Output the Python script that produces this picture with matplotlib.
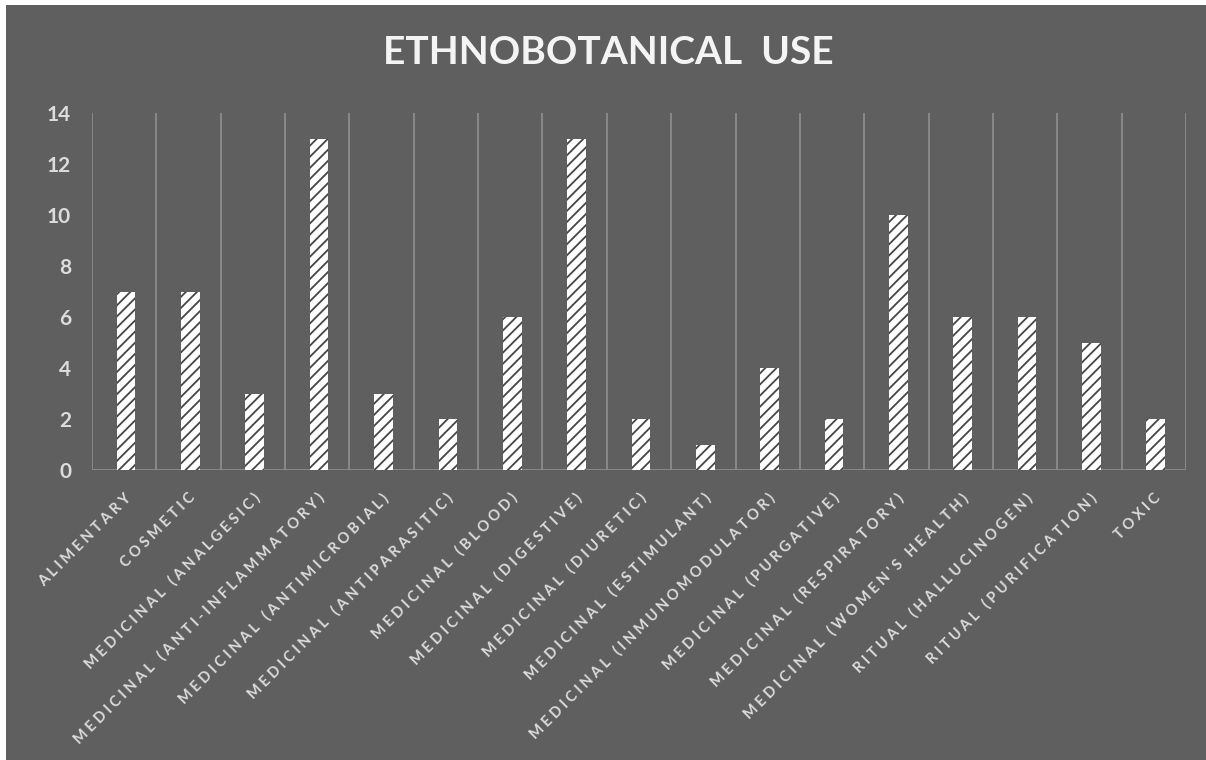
import matplotlib.pyplot as plt
from matplotlib.patches import Rectangle

plt.rcParams['font.family'] = ['Lato', 'DejaVu Sans']
plt.rcParams['hatch.linewidth'] = 1.3

categories = ['Alimentary', 'Cosmetic', 'Medicinal (analgesic)',
              'Medicinal (anti-inflammatory)', 'Medicinal (antimicrobial)',
              'Medicinal (antiparasitic)', 'Medicinal (blood)',
              'Medicinal (digestive)', 'Medicinal (diuretic)',
              'Medicinal (estimulant)', 'Medicinal (inmunomodulator)',
              'Medicinal (purgative)', 'Medicinal (respiratory)',
              "Medicinal (women's health)", 'Ritual (hallucinogen)',
              'Ritual (purification)', 'Toxic']
counts = [7, 7, 3, 13, 3, 2, 6, 13, 2, 1, 4, 2, 10, 6, 6, 5, 2]
yticks = [0, 2, 4, 6, 8, 10, 12, 14]

bg = '#5f5f5f'
grid_c = '#8c8c8c'
text_c = '#dcdcdc'


def spaced(s):
    # wide tracking for the category labels
    return '   '.join(' '.join(w) for w in s.upper().split(' '))


fig = plt.figure(figsize=(12.06, 7.6), dpi=100, facecolor='white')
fig.patches.append(Rectangle((6 / 1206, 0), 1, 755 / 760, transform=fig.transFigure,
                             facecolor=bg, edgecolor='none', zorder=-1))

ax = fig.add_axes([92 / 1206, 1 - 470 / 760, (1186 - 92) / 1206, (470 - 113) / 760])
ax.set_facecolor(bg)

x = [i + 0.03 for i in range(len(categories))]
ax.bar(x, counts, width=0.29, color='white', edgecolor='#454545', linewidth=0,
       hatch='///', zorder=3)

ax.set_xlim(-0.5, len(categories) - 0.5)
ax.set_ylim(0, 14)

# vertical gridlines between categories
for b in range(len(categories) + 1):
    ax.axvline(b - 0.5, color=grid_c, lw=1.3, zorder=1)
ax.axhline(0, color=grid_c, lw=2, zorder=2)

for s in ax.spines.values():
    s.set_visible(False)

ax.set_yticks(yticks)
ax.set_yticklabels([str(v) for v in yticks], fontsize=15, fontweight='bold',
                   color=text_c)
ax.tick_params(axis='y', length=0, pad=15)

ax.set_xticks(list(range(len(categories))))
ax.set_xticklabels([spaced(c) for c in categories], rotation=45, ha='right',
                   va='top', rotation_mode='anchor', fontsize=10.5,
                   fontweight='bold', color=text_c)
ax.tick_params(axis='x', length=0, pad=15)

fig.text(608 / 1206, 1 - 53 / 760, 'ETHNOBOTANICAL  USE', ha='center', va='center',
         fontsize=28, fontweight='bold', color='#f4f4f4')

fig.savefig('out.png', dpi=100, facecolor=fig.get_facecolor())
